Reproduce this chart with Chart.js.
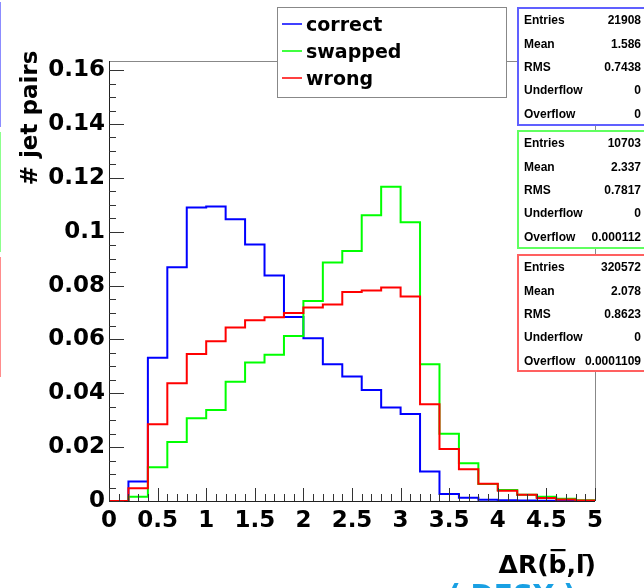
<!DOCTYPE html>
<html>
<head>
<meta charset="utf-8">
<script src="https://cdn.jsdelivr.net/npm/chart.js@4.4.0/dist/chart.umd.min.js"></script>
<style>
  html, body { margin: 0; padding: 0; background: #fff; }
  #wrap { width: 644px; height: 588px; }
</style>
</head>
<body>
<div id="wrap"><canvas id="hist" width="644" height="588"></canvas></div>
<script>
// bin edges (lower edges) of the histogram, width 0.2
const binLow = [0, 0.2, 0.4, 0.6, 0.8, 1.0, 1.2, 1.4, 1.6, 1.8, 2.0, 2.2, 2.4, 2.6, 2.8,
                3.0, 3.2, 3.4, 3.6, 3.8, 4.0, 4.2, 4.4, 4.6, 4.8];
const binHigh = 5.0;

const correct = [0, 0.0072, 0.0532, 0.0868, 0.1090, 0.1094, 0.1046, 0.0953, 0.0837, 0.0683,
                 0.0604, 0.0508, 0.0462, 0.0412, 0.0347, 0.0323, 0.0110, 0.0026, 0.0012, 0.0005,
                 0.0003, 0.0002, 0.0001, 0.0001, 0];
const swapped = [0, 0.0016, 0.0125, 0.0219, 0.0307, 0.0338, 0.0443, 0.0514, 0.0543, 0.0613,
                 0.0743, 0.0886, 0.0928, 0.1061, 0.1167, 0.1035, 0.0508, 0.0250, 0.0140, 0.0063,
                 0.0041, 0.0023, 0.0016, 0.0008, 0.0003];
const wrong   = [0, 0.0047, 0.0285, 0.0437, 0.0546, 0.0593, 0.0644, 0.0671, 0.0682, 0.0698,
                 0.0719, 0.0730, 0.0776, 0.0782, 0.0793, 0.0759, 0.0359, 0.0193, 0.0118, 0.0064,
                 0.0038, 0.0023, 0.0011, 0.0006, 0.0002];

const xTicks = [0, 0.5, 1, 1.5, 2, 2.5, 3, 3.5, 4, 4.5, 5];
const yTicks = [0, 0.02, 0.04, 0.06, 0.08, 0.1, 0.12, 0.14, 0.16];

const legendNames = ['correct', 'swapped', 'wrong'];
const statLabels = ['Entries', 'Mean', 'RMS', 'Underflow', 'Overflow'];
const statsCorrect = ['21908', '1.586', '0.7438', '0', '0'];
const statsSwapped = ['10703', '2.337', '0.7817', '0', '0.000112'];
const statsWrong = ['320572', '2.078', '0.8623', '0', '0.0001109'];

const FONT = '"DejaVu Sans", "Liberation Sans", sans-serif';
const STATFONT = '"Liberation Sans", Arial, sans-serif';

// step outline: each bin value holds from its lower edge to the next edge
function steps(vals) {
  const pts = binLow.map((x, i) => ({ x: x, y: vals[i] }));
  pts.push({ x: binHigh, y: vals[vals.length - 1] });
  return pts;
}

const decor = {
  id: 'decor',
  beforeDraw(chart) {
    const ctx = chart.ctx;
    ctx.save();
    ctx.fillStyle = '#fff';
    ctx.fillRect(0, 0, chart.width, chart.height);
    // edges of neighbouring pad's stat boxes
    ctx.lineWidth = 2;
    [['#8c8cff', 2, 127], ['#8cff8c', 132, 252], ['#ff8c8c', 257, 377]].forEach(b => {
      ctx.strokeStyle = b[0];
      ctx.beginPath(); ctx.moveTo(0, b[1]); ctx.lineTo(0, b[2]); ctx.stroke();
    });
    ctx.restore();
  },
  afterDatasetsDraw(chart) {
    const ctx = chart.ctx;
    const a = chart.chartArea;
    const xs = chart.scales.x, ys = chart.scales.y;
    ctx.save();
    // frame
    ctx.lineWidth = 1;
    ctx.strokeStyle = '#888';
    ctx.beginPath();
    ctx.moveTo(a.left, a.top + 0.5); ctx.lineTo(a.right + 0.5, a.top + 0.5); ctx.lineTo(a.right + 0.5, a.bottom);
    ctx.stroke();
    ctx.strokeStyle = '#222';
    ctx.beginPath();
    ctx.moveTo(a.left + 0.5, a.top); ctx.lineTo(a.left + 0.5, a.bottom + 0.5); ctx.lineTo(a.right, a.bottom + 0.5);
    ctx.stroke();
    // inner ticks
    ctx.strokeStyle = '#333';
    ctx.beginPath();
    for (let k = 0; k <= 50; k++) {
      const v = k / 10;
      const px = Math.round(xs.getPixelForValue(v)) + 0.5;
      const len = (k % 5 === 0) ? 13 : 7;
      ctx.moveTo(px, a.bottom); ctx.lineTo(px, a.bottom - len);
    }
    for (let k = 0; k <= 32; k++) {
      const v = k * 0.005;
      if (v > ys.max) break;
      const py = Math.round(ys.getPixelForValue(v)) + 0.5;
      const len = (k % 4 === 0) ? 15 : 7;
      ctx.moveTo(a.left, py); ctx.lineTo(a.left + len, py);
    }
    ctx.stroke();
    ctx.restore();
  },
  afterDraw(chart) {
    const ctx = chart.ctx;
    const ds = chart.data.datasets;
    ctx.save();

    // legend box
    ctx.fillStyle = '#fff';
    ctx.fillRect(277, 7, 229, 90);
    ctx.strokeStyle = '#888';
    ctx.lineWidth = 1;
    ctx.strokeRect(277.5, 7.5, 229, 90);
    const rowY = [24, 51, 78];
    ctx.font = 'bold 19px ' + FONT;
    ctx.textBaseline = 'alphabetic';
    ctx.textAlign = 'left';
    legendNames.forEach((n, i) => {
      ctx.strokeStyle = ds[i].borderColor;
      ctx.lineWidth = 1.5;
      ctx.beginPath(); ctx.moveTo(282, rowY[i]); ctx.lineTo(302, rowY[i]); ctx.stroke();
      ctx.fillStyle = '#000';
      ctx.fillText(n, 306, rowY[i] + 7);
    });

    // stats boxes
    const boxes = [
      { top: 7, bottom: 126, col: '#6060ff', vals: statsCorrect },
      { top: 130, bottom: 249, col: '#60ff60', vals: statsSwapped },
      { top: 254, bottom: 372, col: '#ff6060', vals: statsWrong }
    ];
    boxes.forEach(b => {
      ctx.fillStyle = '#fff';
      ctx.fillRect(517, b.top, 140, b.bottom - b.top);
      ctx.strokeStyle = b.col;
      ctx.lineWidth = 2;
      ctx.strokeRect(518, b.top + 1, 140, b.bottom - b.top - 2);
      ctx.fillStyle = '#000';
      ctx.font = 'bold 12px ' + STATFONT;
      ctx.textBaseline = 'middle';
      statLabels.forEach((l, i) => {
        const y = b.top + 14 + i * 23.3;
        ctx.textAlign = 'left';
        ctx.fillText(l, 524, y);
        ctx.textAlign = 'right';
        ctx.fillText(b.vals[i], 641, y);
      });
    });

    // y title
    ctx.save();
    ctx.translate(37, 118);
    ctx.rotate(-Math.PI / 2);
    ctx.font = 'bold 23px ' + FONT;
    ctx.textAlign = 'center';
    ctx.textBaseline = 'alphabetic';
    ctx.fillStyle = '#000';
    ctx.fillText('# jet pairs', 0, 0);
    ctx.restore();

    // x title: ΔR(b̄,l̄)
    ctx.font = 'bold 25px ' + FONT;
    ctx.textBaseline = 'alphabetic';
    ctx.textAlign = 'left';
    ctx.fillStyle = '#000';
    const parts = ['\u0394R(', 'b', ',', 'l', ')'];
    const widths = parts.map(p => ctx.measureText(p).width);
    let x = 596 - widths.reduce((s, w) => s + w, 0);
    const base = 573;
    parts.forEach((p, i) => {
      ctx.fillText(p, x, base);
      if (p === 'b') {
        ctx.fillRect(x + 2, base - 24, widths[i] - 3, 2.2);
      }
      if (p === 'l') {
        ctx.fillRect(x + widths[i] - 2, base - 19, 6, 2.2);
      }
      x += widths[i];
    });

    // DESY label, cut at the bottom edge
    ctx.font = 'bold 28px ' + FONT;
    ctx.fillStyle = '#19a0e3';
    ctx.textAlign = 'center';
    ctx.fillText('( DESY )', 512, 605);

    ctx.restore();
  }
};

new Chart(document.getElementById('hist').getContext('2d'), {
  type: 'line',
  data: {
    datasets: [
      { label: legendNames[0], data: steps(correct), borderColor: '#0000ff', order: 3 },
      { label: legendNames[1], data: steps(swapped), borderColor: '#00ff00', order: 2 },
      { label: legendNames[2], data: steps(wrong), borderColor: '#ff0000', order: 1 }
    ].map(d => Object.assign(d, {
      stepped: true, borderWidth: 2, pointRadius: 0, fill: false, clip: false,
      backgroundColor: d.borderColor
    }))
  },
  options: {
    responsive: false,
    animation: false,
    devicePixelRatio: 1,
    layout: { padding: { left: 0, right: 49, top: 61, bottom: 0 } },
    plugins: { legend: { display: false }, tooltip: { enabled: false } },
    scales: {
      x: {
        type: 'linear', min: 0, max: 5,
        grid: { display: false, drawTicks: false }, border: { display: false },
        afterBuildTicks: s => { s.ticks = xTicks.map(v => ({ value: v })); },
        afterFit: s => { s.height = 87; },
        ticks: {
          padding: 6, maxRotation: 0, autoSkip: false,
          color: '#000', font: { family: FONT, weight: 'bold', size: 23 },
          callback: v => String(v)
        }
      },
      y: {
        type: 'linear', min: 0, max: 0.1634,
        grid: { display: false, drawTicks: false }, border: { display: false },
        afterBuildTicks: s => { s.ticks = yTicks.map(v => ({ value: v })); },
        afterFit: s => { s.width = 109; },
        ticks: {
          padding: 4, autoSkip: false,
          color: '#000', font: { family: FONT, weight: 'bold', size: 23 },
          callback: v => String(v)
        }
      }
    }
  },
  plugins: [decor]
});
</script>
</body>
</html>
